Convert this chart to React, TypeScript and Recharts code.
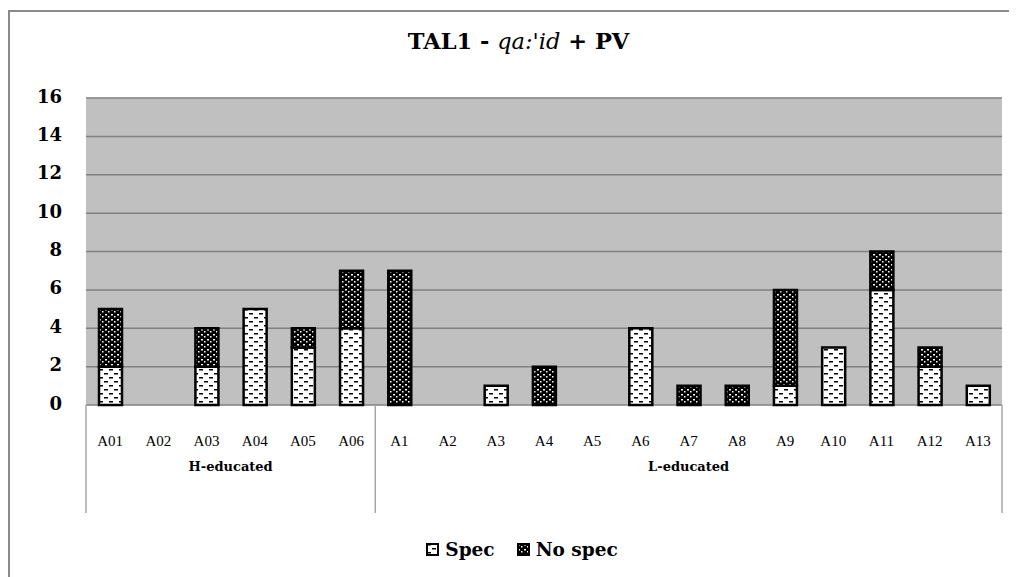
import React from "react"
import { BarChart, Bar, XAxis, YAxis, CartesianGrid, Legend } from "recharts"

const speakers = ["A01", "A02", "A03", "A04", "A05", "A06", "A1", "A2", "A3", "A4", "A5", "A6", "A7", "A8", "A9", "A10", "A11", "A12", "A13"]
const spec = [2, 0, 2, 5, 3, 4, 0, 0, 1, 0, 0, 4, 0, 0, 1, 3, 6, 2, 1]
const noSpec = [3, 0, 2, 0, 1, 3, 7, 0, 0, 2, 0, 0, 1, 1, 5, 0, 2, 1, 0]
const groups = [
  { name: "H-educated", count: 6 },
  { name: "L-educated", count: 13 },
]
const yTicks = [0, 2, 4, 6, 8, 10, 12, 14, 16]

const data = speakers.map((s, i) => ({ speaker: s, spec: spec[i], noSpec: noSpec[i] }))

const W = 1009
const H = 569
const PLOT_LEFT = 78
const PLOT_RIGHT = 994
// Liberation Serif has no bold face here, bold text uses DejaVu Serif
const FONT = "Liberation Serif"
const BOLD_FONT = "DejaVu Serif"
const band = (PLOT_RIGHT - PLOT_LEFT) / speakers.length

// first index of each group
const groupStarts = groups.reduce<number[]>((acc, g, i) => {
  acc.push(i === 0 ? 0 : acc[i - 1] + groups[i - 1].count)
  return acc
}, [])

function CategoryTick(props: any) {
  const { x, y, payload, index } = props
  const gi = groupStarts.indexOf(index)
  const isLast = index === speakers.length - 1
  return (
    <g>
      <text x={x} y={y + 36} textAnchor="middle" dominantBaseline="central" fontFamily={FONT} fontSize={15} fill="#000">
        {payload.value}
      </text>
      {gi >= 0 && (
        <>
          <line x1={x - band / 2} x2={x - band / 2} y1={y} y2={y + 108} stroke="#a6a6a6" strokeWidth={1.5} />
          <text
            x={x - band / 2 + (groups[gi].count * band) / 2}
            y={y + 61}
            textAnchor="middle"
            dominantBaseline="central"
            fontFamily={BOLD_FONT}
            fontWeight="bold"
            fontSize={13}
            fill="#000"
          >
            {groups[gi].name}
          </text>
        </>
      )}
      {isLast && <line x1={x + band / 2} x2={x + band / 2} y1={y} y2={y + 108} stroke="#a6a6a6" strokeWidth={1.5} />}
    </g>
  )
}

function YTick(props: any) {
  const { x, y, payload } = props
  return (
    <text x={x} y={y - 2} textAnchor="end" dominantBaseline="central" fontFamily={BOLD_FONT} fontWeight="bold" fontSize={18} fill="#000">
      {payload.value}
    </text>
  )
}

function LegendContent() {
  const items = [
    { label: "Spec", fill: "url(#specPat)" },
    { label: "No spec", fill: "url(#noSpecPat)" },
  ]
  return (
    <div
      style={{
        display: "flex",
        justifyContent: "center",
        alignItems: "center",
        gap: 22,
        paddingTop: 14,
        paddingLeft: 34,
        fontFamily: BOLD_FONT,
        fontWeight: "bold",
        fontSize: 18.5,
      }}
    >
      {items.map((it) => (
        <div key={it.label} style={{ display: "flex", alignItems: "center", gap: 6 }}>
          <svg width={13} height={13}>
            <rect x={1} y={1} width={11} height={11} fill={it.fill} stroke="#000" strokeWidth={2} />
          </svg>
          <span>{it.label}</span>
        </div>
      ))}
    </div>
  )
}

export default function App() {
  return (
    <div style={{ position: "relative", width: W, height: H, overflow: "hidden" }}>
      <svg width={0} height={0} style={{ position: "absolute" }}>
        <defs>
          <pattern id="specPat" width={10} height={8} patternUnits="userSpaceOnUse">
            <rect width={10} height={8} fill="#fff" />
            <rect x={1} y={1} width={4} height={1.5} fill="#000" />
            <rect x={6} y={5} width={4} height={1.5} fill="#000" />
          </pattern>
          <pattern id="noSpecPat" width={6} height={5} patternUnits="userSpaceOnUse">
            <rect width={6} height={5} fill="#000" />
            <rect x={1} y={1} width={2} height={1.5} fill="#fff" />
            <rect x={4} y={3} width={1.5} height={1.5} fill="#fff" />
          </pattern>
        </defs>
      </svg>
      <div
        style={{
          position: "absolute",
          left: 0,
          top: 2,
          width: W + 40,
          height: H + 40,
          border: "2px solid #8a8a8a",
          boxSizing: "border-box",
        }}
      />
      <div
        style={{
          position: "absolute",
          left: 0,
          top: 20,
          width: W,
          textAlign: "center",
          fontFamily: BOLD_FONT,
          fontWeight: "bold",
          fontSize: 22.5,
          paddingLeft: 12,
          boxSizing: "border-box",
          whiteSpace: "pre",
        }}
      >
        TAL1 - <span style={{ fontStyle: "italic", fontWeight: "normal" }}>qa:'id</span> + PV
      </div>
      <div style={{ position: "absolute", left: 0, top: 0 }}>
        <BarChart width={W} height={H} data={data} margin={{ top: 90, right: W - PLOT_RIGHT, left: 0, bottom: 0 }} barSize={23}>
          <CartesianGrid vertical={false} stroke="#808080" strokeWidth={1.5} fill="#c0c0c0" fillOpacity={1} />
          <XAxis
            dataKey="speaker"
            interval={0}
            axisLine={false}
            tickLine={false}
            tickSize={0}
            tickMargin={0}
            height={120}
            tick={<CategoryTick />}
          />
          <YAxis
            width={PLOT_LEFT}
            domain={[0, 16]}
            ticks={yTicks}
            axisLine={false}
            tickLine={false}
            tickSize={0}
            tickMargin={24}
            tick={<YTick />}
          />
          <Legend verticalAlign="bottom" height={52} content={<LegendContent />} />
          <Bar dataKey="spec" name="Spec" stackId="a" fill="url(#specPat)" stroke="#000" strokeWidth={2.5} isAnimationActive={false} />
          <Bar dataKey="noSpec" name="No spec" stackId="a" fill="url(#noSpecPat)" stroke="#000" strokeWidth={2.5} isAnimationActive={false} />
        </BarChart>
      </div>
    </div>
  )
}
